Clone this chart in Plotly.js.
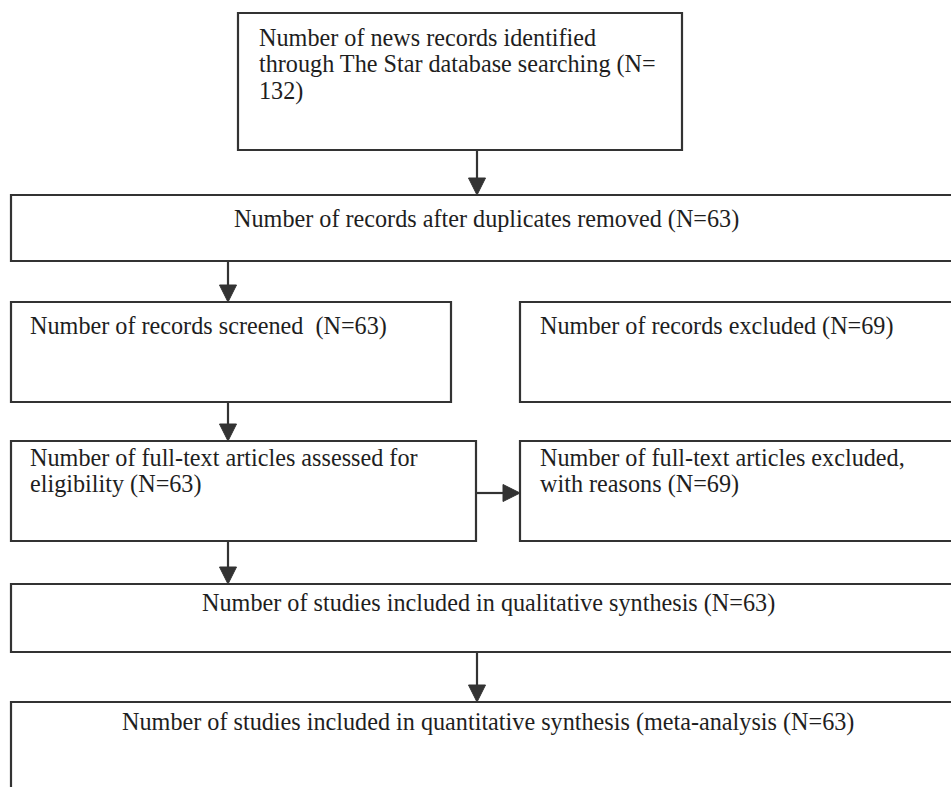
<!DOCTYPE html>
<html>
<head>
<meta charset="utf-8">
<script src="https://cdn.plot.ly/plotly-3.0.1.min.js"></script>
<style>html,body{margin:0;padding:0;background:#fff;}#chart{width:951px;height:787px;}</style>
</head>
<body>
<div id="chart"></div>
<script>
// ---- content (text of each flowchart node, one entry per line) ----
const identifiedLines = ["Number of news records identified", "through The Star database searching (N=", "132)"];
const duplicatesLines = ["Number of records after duplicates removed (N=63)"];
const screenedLines = ["Number of records screened  (N=63)"];
const excludedLines = ["Number of records excluded (N=69)"];
const assessedLines = ["Number of full-text articles assessed for", "eligibility (N=63)"];
const excludedFullLines = ["Number of full-text articles excluded,", "with reasons (N=69)"];
const qualitativeLines = ["Number of studies included in qualitative synthesis (N=63)"];
const quantitativeLines = ["Number of studies included in quantitative synthesis (meta-analysis (N=63)"];

// ---- layout geometry (pixels) ----
const boxes = [
  {x0:238, x1:682, y0:13,  y1:150, lines:identifiedLines,   align:'left',   tx:257, ty:[37,64,91]},
  {x0:11,  x1:962, y0:195, y1:261, lines:duplicatesLines,   align:'center', tx:486, ty:[219]},
  {x0:11,  x1:451, y0:302, y1:402, lines:screenedLines,     align:'left',   tx:28,  ty:[326]},
  {x0:520, x1:962, y0:302, y1:402, lines:excludedLines,     align:'left',   tx:538, ty:[326]},
  {x0:11,  x1:476, y0:441, y1:541, lines:assessedLines,     align:'left',   tx:28,  ty:[457,484]},
  {x0:520, x1:962, y0:441, y1:541, lines:excludedFullLines, align:'left',   tx:538, ty:[457,484]},
  {x0:11,  x1:962, y0:584, y1:652, lines:qualitativeLines,  align:'center', tx:488, ty:[603]},
  {x0:11,  x1:962, y0:702, y1:820, lines:quantitativeLines, align:'center', tx:488, ty:[722]}
];
const arrows = [
  {x0:477, y0:150, x1:477, y1:195},
  {x0:228, y0:261, x1:228, y1:302},
  {x0:228, y0:402, x1:228, y1:441},
  {x0:476, y0:493, x1:520, y1:493},
  {x0:228, y0:541, x1:228, y1:584},
  {x0:477, y0:652, x1:477, y1:702}
];

const lineColor = '#333333';
const textColor = '#1e1e1e';
const shapes = [];
const annotations = [];

boxes.forEach(b => {
  shapes.push({type:'rect', xref:'x', yref:'y', x0:b.x0, x1:b.x1, y0:b.y0, y1:b.y1,
    line:{color:lineColor, width:2.2}, fillcolor:'rgba(0,0,0,0)'});
  b.lines.forEach((t, i) => {
    annotations.push({xref:'x', yref:'y', x:b.tx, y:b.ty[i], text:t, showarrow:false,
      xanchor:b.align, yanchor:'middle', align:b.align,
      font:{family:'Liberation Serif, Times New Roman, serif', size:24.2, color:textColor}});
  });
});

const headLen = 17, headHalf = 8.5;
arrows.forEach(a => {
  const vertical = a.x0 === a.x1;
  if (vertical) {
    shapes.push({type:'line', x0:a.x0, x1:a.x1, y0:a.y0, y1:a.y1 - headLen + 1, line:{color:lineColor, width:2.2}});
    shapes.push({type:'path', path:`M ${a.x1-headHalf} ${a.y1-headLen} L ${a.x1+headHalf} ${a.y1-headLen} L ${a.x1} ${a.y1} Z`,
      fillcolor:lineColor, line:{color:lineColor, width:1}});
  } else {
    shapes.push({type:'line', x0:a.x0, x1:a.x1 - headLen + 1, y0:a.y0, y1:a.y1, line:{color:lineColor, width:2.2}});
    shapes.push({type:'path', path:`M ${a.x1-headLen} ${a.y1-headHalf} L ${a.x1-headLen} ${a.y1+headHalf} L ${a.x1} ${a.y1} Z`,
      fillcolor:lineColor, line:{color:lineColor, width:1}});
  }
});

const layout = {
  width:951, height:787,
  margin:{l:0, r:0, t:0, b:0},
  paper_bgcolor:'#ffffff', plot_bgcolor:'#ffffff',
  xaxis:{range:[0,951], visible:false, fixedrange:true},
  yaxis:{range:[787,0], visible:false, fixedrange:true},
  shapes:shapes, annotations:annotations, showlegend:false
};
Plotly.newPlot('chart', [], layout, {staticPlot:true, displayModeBar:false});
</script>
</body>
</html>
